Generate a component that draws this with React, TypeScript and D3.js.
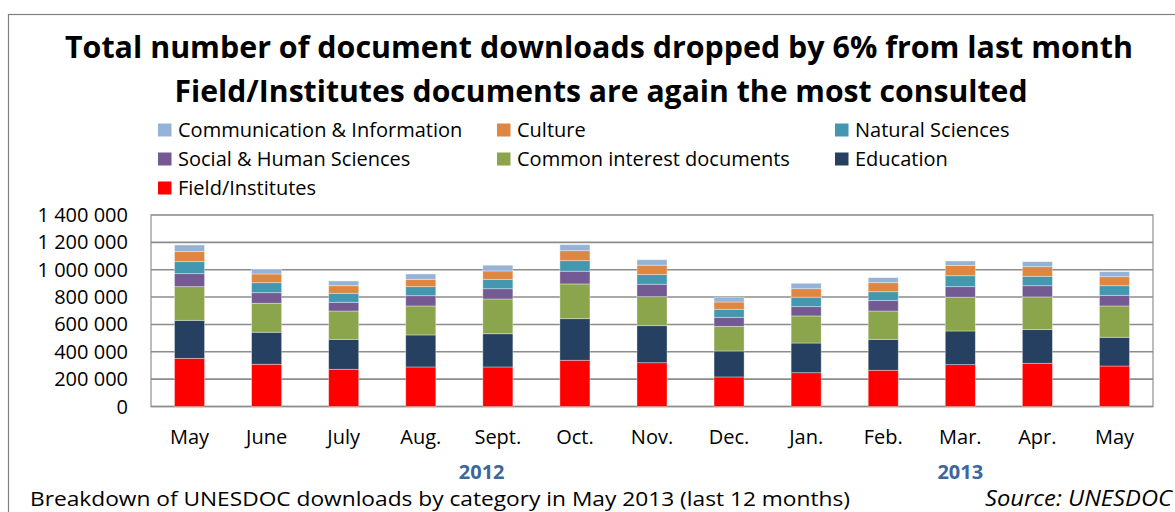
import React from "react";
import * as d3 from "d3";

const months = ["May", "June", "July", "Aug.", "Sept.", "Oct.", "Nov.", "Dec.", "Jan.", "Feb.", "Mar.", "Apr.", "May"];
const fieldInstitutes = [352, 309, 272, 289, 289, 338, 320, 216, 247, 265, 306, 316, 296];
const education = [278, 234, 219, 234, 243, 304, 271, 190, 217, 226, 246, 246, 210];
const commonInterest = [246, 212, 207, 212, 254, 254, 212, 180, 198, 207, 247, 239, 229];
const socialHuman = [95, 77, 64, 75, 75, 93, 91, 66, 68, 76, 77, 82, 78];
const naturalSciences = [88, 73, 66, 66, 69, 77, 70, 59, 69, 65, 80, 69, 70];
const culture = [73, 64, 55, 54, 61, 73, 69, 53, 62, 66, 74, 70, 66];
const commInfo = [49, 36, 35, 39, 42, 44, 40, 35, 40, 37, 34, 37, 37];

const yTicks = [0, 200000, 400000, 600000, 800000, 1000000, 1200000, 1400000];
const years = ["2012", "2013"];
const yearBandPos = [4.29, 10.5];

const titleLines = [
  "Total number of document downloads dropped by 6% from last month",
  "Field/Institutes documents are again the most consulted",
];
const footnote = "Breakdown of UNESDOC downloads by category in May 2013 (last 12 months)";
const source = "Source: UNESDOC";

// stacking order bottom -> top
const seriesKeys = ["field", "education", "common", "social", "natural", "culture", "comm"];
const seriesNames: Record<string, string> = {
  comm: "Communication & Information",
  culture: "Culture",
  natural: "Natural Sciences",
  social: "Social & Human Sciences",
  common: "Common interest documents",
  education: "Education",
  field: "Field/Institutes",
};
const seriesColors: Record<string, string> = {
  comm: "#95B3D7",
  culture: "#DF8640",
  natural: "#4398B0",
  social: "#735A92",
  common: "#8BA54D",
  education: "#254061",
  field: "#FF0000",
};
const seriesValues: Record<string, number[]> = {
  field: fieldInstitutes,
  education,
  common: commonInterest,
  social: socialHuman,
  natural: naturalSciences,
  culture,
  comm: commInfo,
};
const legendRows = [
  ["comm", "culture", "natural"],
  ["social", "common", "education"],
  ["field"],
];

const FONT = "'Open Sans', sans-serif";

export default function App() {
  const W = 1175, H = 512;
  const plot = { left: 151, right: 1153, top: 215, bottom: 406.5 };

  const rows = months.map((m, i) => {
    const r: any = { key: String(i), month: m };
    seriesKeys.forEach((k) => (r[k] = seriesValues[k][i] * 1000));
    return r;
  });
  const stacked = d3.stack().keys(seriesKeys)(rows);

  const x = d3
    .scaleBand()
    .domain(rows.map((r) => r.key))
    .range([plot.left, plot.right])
    .paddingInner(0.61)
    .paddingOuter(0.305);
  const y = d3.scaleLinear().domain([0, 1400000]).range([plot.bottom, plot.top]);
  const fmt = (v: number) => d3.format(",")(v).replace(/,/g, " ");
  const step = x.step();
  const x0 = plot.left;

  const legendX = [158, 497, 835];
  const legendY = [137, 166, 195];

  return (
    <svg
      width={W}
      height={H}
      style={{ position: "absolute", left: 0, top: 0, background: "#fff" }}
      fontFamily={FONT}
    >
      <rect x={0} y={0} width={W} height={H} fill="#fff" />
      <rect x={8.5} y={14.5} width={1300} height={700} fill="none" stroke="#808080" strokeWidth={1.2} />

      {/* title */}
      <text x={599} y={58} textAnchor="middle" fontSize={31} fontWeight={700} fill="#000"
        textLength={1068} lengthAdjust="spacingAndGlyphs">{titleLines[0]}</text>
      <text x={601} y={102} textAnchor="middle" fontSize={31} fontWeight={700} fill="#000"
        textLength={853} lengthAdjust="spacingAndGlyphs">{titleLines[1]}</text>

      {/* legend */}
      {legendRows.map((row, ri) =>
        row.map((k, ci) => (
          <g key={k}>
            <rect x={legendX[ci]} y={legendY[ri] - 13.5} width={13.5} height={13} fill={seriesColors[k]} />
            <text x={legendX[ci] + 20} y={legendY[ri]} fontSize={20} fill="#000">{seriesNames[k]}</text>
          </g>
        ))
      )}

      {/* plot area border */}
      <rect x={plot.left} y={plot.top} width={plot.right - plot.left} height={plot.bottom - plot.top}
        fill="#fff" stroke="#a6a6a6" strokeWidth={1.5} />

      {/* gridlines */}
      {yTicks.map((t) => (
        <line key={t} x1={plot.left} x2={plot.right} y1={y(t)} y2={y(t)} stroke="#8c8c8c" strokeWidth={t === 1400000 ? 1.2 : 1.6} />
      ))}

      {/* y labels */}
      {yTicks.map((t) => (
        <text key={"l" + t} x={128} y={y(t)} dy="0.35em" textAnchor="end" fontSize={20} fill="#000">{fmt(t)}</text>
      ))}

      {/* bars */}
      {stacked.map((s) => (
        <g key={s.key} fill={seriesColors[s.key]}>
          {s.map((d: any, i: number) => (
            <rect key={i} x={x(String(i))} y={y(d[1])} width={x.bandwidth()} height={y(d[0]) - y(d[1])}
              stroke="rgba(255,255,255,0.45)" strokeWidth={0.8} />
          ))}
        </g>
      ))}

      {/* x labels */}
      {rows.map((r) => (
        <text key={"m" + r.key} x={(x(r.key) as number) + x.bandwidth() / 2} y={444} textAnchor="middle" fontSize={20} fill="#000">{r.month}</text>
      ))}

      {/* years */}
      {years.map((yr, i) => (
        <text key={yr} x={x0 + yearBandPos[i] * step} y={479} textAnchor="middle" fontSize={20} fontWeight={700} fill="#3A679C">{yr}</text>
      ))}

      {/* footnote */}
      <text x={30} y={506} fontSize={20.5} fill="#000" textLength={820} lengthAdjust="spacingAndGlyphs">{footnote}</text>
      <text x={1172} y={506} textAnchor="end" fontSize={21} fontStyle="italic" fill="#000" textLength={187} lengthAdjust="spacingAndGlyphs">{source}</text>
    </svg>
  );
}
